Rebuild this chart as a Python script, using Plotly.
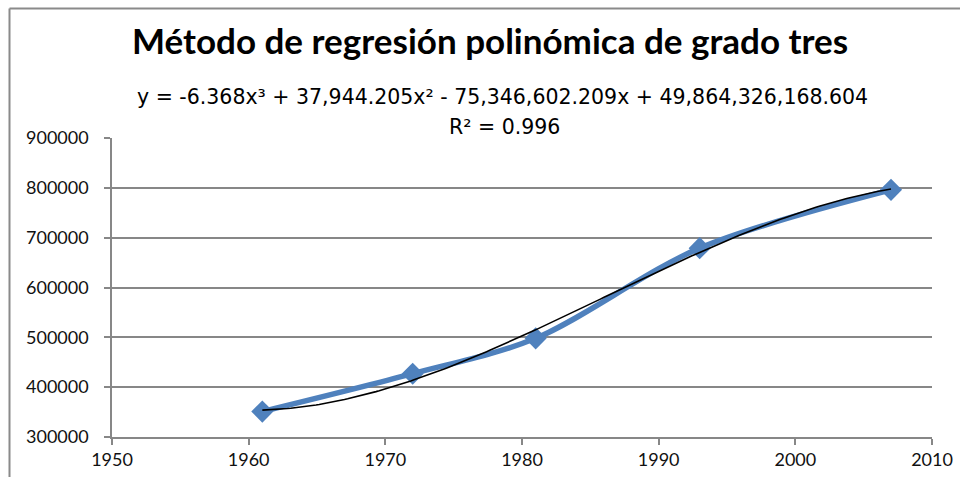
import numpy as np
import plotly.graph_objects as go

years = [1961, 1972, 1981, 1993, 2007]
population = [351000, 427000, 498000, 679000, 796000]
title_text = "Método de regresión polinómica de grado tres"
equation_text = "y = -6.368x³ + 37,944.205x² - 75,346,602.209x + 49,864,326,168.604"
r2_text = "R² = 0.996"
x_ticks = [1950, 1960, 1970, 1980, 1990, 2000, 2010]
y_ticks = [300000, 400000, 500000, 600000, 700000, 800000, 900000]

# cubic trendline (least squares, like the spreadsheet trendline)
xa = np.array(years, dtype=float)
ya = np.array(population, dtype=float)
xc = xa.mean()
coef = np.polyfit(xa - xc, ya, 3)
xt = np.linspace(min(years), max(years), 200)
yt = np.polyval(coef, xt - xc)

FONT = "Lato, 'Open Sans', sans-serif"
EQFONT = "'DejaVu Sans', sans-serif"
BLUE = "#4F81BD"
GRID = "#878787"

L, R, T, B = 112, 28, 138, 40
PW, PH = 960 - L - R, 477 - T - B


def px(x):
    return (x - L) / PW


def py(y):
    return (477 - B - y) / PH


fig = go.Figure()
fig.add_trace(go.Scatter(
    x=years, y=population, mode="lines+markers",
    line=dict(color=BLUE, width=5.5, shape="spline", smoothing=0.9),
    marker=dict(symbol="diamond", size=17, color=BLUE),
    showlegend=False, hoverinfo="x+y"))
fig.add_trace(go.Scatter(
    x=xt, y=yt, mode="lines",
    line=dict(color="black", width=1.6),
    showlegend=False, hoverinfo="skip"))

fig.update_layout(
    width=960, height=477,
    margin=dict(l=L, r=R, t=T, b=B, autoexpand=False),
    paper_bgcolor="white", plot_bgcolor="white",
    font=dict(family=FONT, color="black", size=18),
    xaxis=dict(range=[1950, 2010], tickvals=x_ticks, ticktext=[str(v) for v in x_ticks],
               showgrid=False, zeroline=False, showline=True, linecolor=GRID, linewidth=1.5,
               ticks="outside", ticklen=6, tickcolor=GRID, tickwidth=1.5, automargin=False,
               tickfont=dict(family=FONT, size=18, color="#111")),
    yaxis=dict(range=[300000, 900000], tickvals=y_ticks, ticktext=[str(v) for v in y_ticks],
               showgrid=True, gridcolor=GRID, gridwidth=1.5, zeroline=False,
               showline=True, linecolor=GRID, linewidth=1.5, automargin=False,
               ticks="outside", ticklen=6, tickcolor=GRID, tickwidth=1.5,
               ticklabelstandoff=12,
               tickfont=dict(family=FONT, size=18, color="#111")),
    annotations=[
        dict(text="<b>" + title_text + "</b>", xref="paper", yref="paper",
             x=px(490), y=py(40), xanchor="center", yanchor="middle",
             showarrow=False, font=dict(family=FONT, size=35, color="black")),
        dict(text=equation_text, xref="paper", yref="paper",
             x=px(502), y=py(97), xanchor="center", yanchor="middle",
             showarrow=False, font=dict(family=EQFONT, size=20.5, color="black")),
        dict(text=r2_text, xref="paper", yref="paper",
             x=px(504), y=py(127), xanchor="center", yanchor="middle",
             showarrow=False, font=dict(family=EQFONT, size=20.5, color="black")),
    ],
    shapes=[
        dict(type="line", xref="paper", yref="paper",
             x0=px(9.5), x1=px(9.5), y0=py(477), y1=py(8.5),
             line=dict(color="#8a8a8a", width=2)),
        dict(type="line", xref="paper", yref="paper",
             x0=px(9.5), x1=px(960), y0=py(8.5), y1=py(8.5),
             line=dict(color="#8a8a8a", width=2)),
    ],
)

fig.write_html("out.html",
               config={"displayModeBar": False},
               post_script="document.body.style.margin='0';document.body.style.padding='0';")
